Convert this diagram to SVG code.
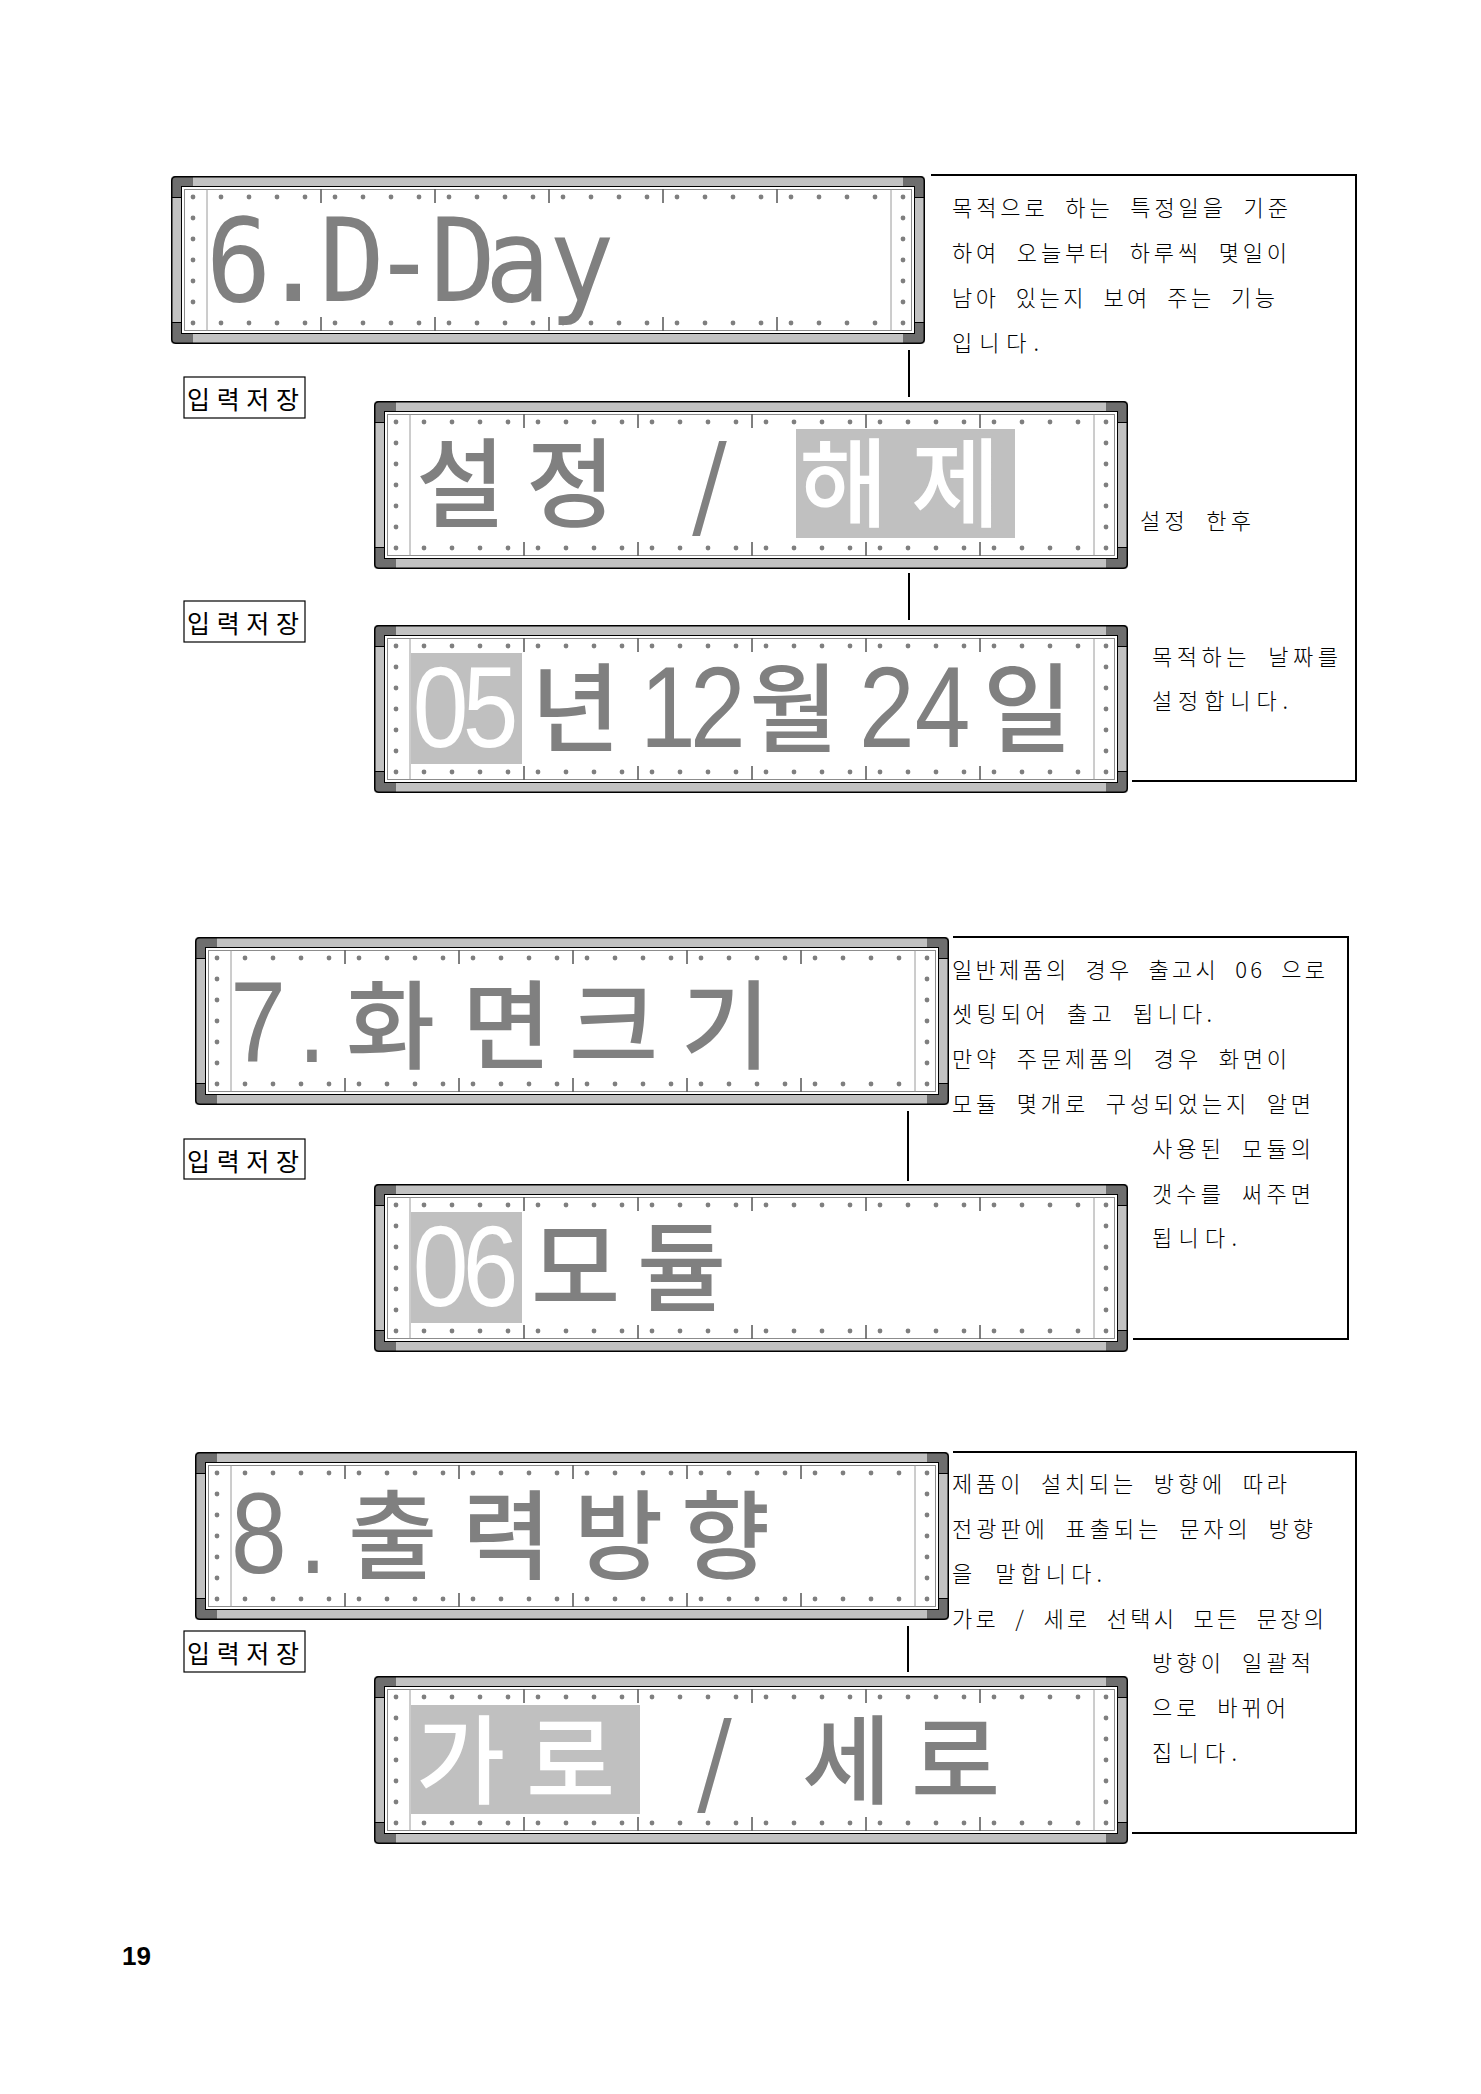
<svg xmlns="http://www.w3.org/2000/svg" width="1481" height="2094" viewBox="0 0 1481 2094">
<style>
.big{font-family:"Noto Sans CJK KR","Noto Sans",sans-serif;font-size:97px;font-weight:500;fill:#808080}
.lat{font-family:"Liberation Sans",Arial,sans-serif;font-size:115px;fill:#808080}
.mono{font-family:"DejaVu Sans Mono","Liberation Mono",monospace;font-size:115px;fill:#808080}
.w{fill:#ffffff}
.hl{fill:#c0c0c0}
.note{font-family:"Noto Sans CJK KR",sans-serif;font-size:22px;font-weight:300;word-spacing:8px;fill:#000}
.lbl{font-family:"Noto Sans CJK KR",sans-serif;font-size:25px;fill:#000}
.lblbox{fill:#fff;stroke:#000;stroke-width:1.2}
.conn{stroke:#000;stroke-width:2;fill:none}
.dot{fill:#7f7f7f}
</style>
<defs>
<clipPath id="fclip"><rect x="0" y="0" width="754" height="168" rx="4"/></clipPath>
<g id="frame">
 <rect x="0" y="0" width="754" height="168" rx="4" fill="#c2c2c2"/>
 <g clip-path="url(#fclip)" fill="#6e6e6e">
  <rect x="0" y="0" width="22" height="21"/>
  <rect x="732" y="0" width="22" height="21"/>
  <rect x="0" y="147" width="22" height="21"/>
  <rect x="732" y="147" width="22" height="21"/>
 </g>
 <rect x="10.5" y="10.5" width="733" height="147" fill="#fff" stroke="#000" stroke-width="1"/>
 <rect x="13.5" y="13.5" width="727" height="141" fill="none" stroke="#8c8c8c" stroke-width="1"/>
 <path d="M36 13.5V154.5M720 13.5V154.5" stroke="#9a9a9a" stroke-width="1"/>
 <path d="M150 13.5V27M264 13.5V27M378 13.5V27M492 13.5V27M606 13.5V27M150 141V154.5M264 141V154.5M378 141V154.5M492 141V154.5M606 141V154.5" stroke="#000" stroke-width="1"/>
 <path d="M0 21.5H10.5M0 146.5H10.5M743.5 21.5H754M743.5 146.5H754" stroke="#000" stroke-width="1"/>
 <g class="dot">
  <circle cx="22" cy="21" r="2.4"/><circle cx="732" cy="21" r="2.4"/>
  <circle cx="22" cy="42" r="2.4"/><circle cx="732" cy="42" r="2.4"/>
  <circle cx="22" cy="63" r="2.4"/><circle cx="732" cy="63" r="2.4"/>
  <circle cx="22" cy="84" r="2.4"/><circle cx="732" cy="84" r="2.4"/>
  <circle cx="22" cy="105" r="2.4"/><circle cx="732" cy="105" r="2.4"/>
  <circle cx="22" cy="126" r="2.4"/><circle cx="732" cy="126" r="2.4"/>
  <circle cx="22" cy="147" r="2.4"/><circle cx="732" cy="147" r="2.4"/>
  <circle cx="50" cy="21" r="2.4"/><circle cx="78" cy="21" r="2.4"/><circle cx="106" cy="21" r="2.4"/><circle cx="134" cy="21" r="2.4"/>
  <circle cx="164" cy="21" r="2.4"/><circle cx="192" cy="21" r="2.4"/><circle cx="220" cy="21" r="2.4"/><circle cx="248" cy="21" r="2.4"/>
  <circle cx="278" cy="21" r="2.4"/><circle cx="306" cy="21" r="2.4"/><circle cx="334" cy="21" r="2.4"/><circle cx="362" cy="21" r="2.4"/>
  <circle cx="392" cy="21" r="2.4"/><circle cx="420" cy="21" r="2.4"/><circle cx="448" cy="21" r="2.4"/><circle cx="476" cy="21" r="2.4"/>
  <circle cx="506" cy="21" r="2.4"/><circle cx="534" cy="21" r="2.4"/><circle cx="562" cy="21" r="2.4"/><circle cx="590" cy="21" r="2.4"/>
  <circle cx="620" cy="21" r="2.4"/><circle cx="648" cy="21" r="2.4"/><circle cx="676" cy="21" r="2.4"/><circle cx="704" cy="21" r="2.4"/>
  <circle cx="50" cy="147" r="2.4"/><circle cx="78" cy="147" r="2.4"/><circle cx="106" cy="147" r="2.4"/><circle cx="134" cy="147" r="2.4"/>
  <circle cx="164" cy="147" r="2.4"/><circle cx="192" cy="147" r="2.4"/><circle cx="220" cy="147" r="2.4"/><circle cx="248" cy="147" r="2.4"/>
  <circle cx="278" cy="147" r="2.4"/><circle cx="306" cy="147" r="2.4"/><circle cx="334" cy="147" r="2.4"/><circle cx="362" cy="147" r="2.4"/>
  <circle cx="392" cy="147" r="2.4"/><circle cx="420" cy="147" r="2.4"/><circle cx="448" cy="147" r="2.4"/><circle cx="476" cy="147" r="2.4"/>
  <circle cx="506" cy="147" r="2.4"/><circle cx="534" cy="147" r="2.4"/><circle cx="562" cy="147" r="2.4"/><circle cx="590" cy="147" r="2.4"/>
  <circle cx="620" cy="147" r="2.4"/><circle cx="648" cy="147" r="2.4"/><circle cx="676" cy="147" r="2.4"/><circle cx="704" cy="147" r="2.4"/>
 </g>
 <rect x="0.75" y="0.75" width="752.5" height="166.5" rx="4" fill="none" stroke="#000" stroke-width="1.5"/>
</g>
</defs>
<rect width="1481" height="2094" fill="#fff"/>

<g id="connectors">
 <path class="conn" d="M909 350V397M909 573V620M908 1111V1181M908 1626V1672"/>
</g>

<g id="note-box-1">
 <path class="conn" d="M931 175H1356V781H1132"/>
 <text class="note" x="952" y="216" textLength="336" lengthAdjust="spacing">목적으로 하는 특정일을 기준</text>
 <text class="note" x="952" y="261" textLength="335" lengthAdjust="spacing">하여 오늘부터 하루씩 몇일이</text>
 <text class="note" x="952" y="306" textLength="323" lengthAdjust="spacing">남아 있는지 보여 주는 기능</text>
 <text class="note" x="952" y="351" textLength="87" lengthAdjust="spacing">입니다.</text>
 <text class="note" x="1140" y="529" textLength="111" lengthAdjust="spacing">설정 한후</text>
 <text class="note" x="1152" y="665" textLength="186" lengthAdjust="spacing">목적하는 날짜를</text>
 <text class="note" x="1152" y="709" textLength="136" lengthAdjust="spacing">설정합니다.</text>
</g>
<g id="note-box-2">
 <path class="conn" d="M953 937H1348V1339H1133"/>
 <text class="note" x="952" y="978" textLength="373" lengthAdjust="spacing">일반제품의 경우 출고시 06 으로</text>
 <text class="note" x="952" y="1022" textLength="260" lengthAdjust="spacing">셋팅되어 출고 됩니다.</text>
 <text class="note" x="952" y="1067" textLength="335" lengthAdjust="spacing">만약 주문제품의 경우 화면이</text>
 <text class="note" x="952" y="1112" textLength="359" lengthAdjust="spacing">모듈 몇개로 구성되었는지 알면</text>
 <text class="note" x="1152" y="1157" textLength="159" lengthAdjust="spacing">사용된 모듈의</text>
 <text class="note" x="1152" y="1202" textLength="159" lengthAdjust="spacing">갯수를 써주면</text>
 <text class="note" x="1152" y="1246" textLength="85" lengthAdjust="spacing">됩니다.</text>
</g>
<g id="note-box-3">
 <path class="conn" d="M953 1452H1356V1833H1132"/>
 <text class="note" x="952" y="1492" textLength="335" lengthAdjust="spacing">제품이 설치되는 방향에 따라</text>
 <text class="note" x="952" y="1537" textLength="361" lengthAdjust="spacing">전광판에 표출되는 문자의 방향</text>
 <text class="note" x="952" y="1582" textLength="150" lengthAdjust="spacing">을 말합니다.</text>
 <text class="note" x="952" y="1627" textLength="372" lengthAdjust="spacing">가로 / 세로 선택시 모든 문장의</text>
 <text class="note" x="1152" y="1671" textLength="159" lengthAdjust="spacing">방향이 일괄적</text>
 <text class="note" x="1152" y="1716" textLength="134" lengthAdjust="spacing">으로 바뀌어</text>
 <text class="note" x="1152" y="1761" textLength="85" lengthAdjust="spacing">집니다.</text>
</g>

<g id="label-1"><rect class="lblbox" x="184" y="377" width="121" height="41"/><text class="lbl" x="187" y="409" textLength="112" lengthAdjust="spacing">입력저장</text></g>
<g id="label-2"><rect class="lblbox" x="184" y="601" width="121" height="41"/><text class="lbl" x="187" y="633" textLength="112" lengthAdjust="spacing">입력저장</text></g>
<g id="label-3"><rect class="lblbox" x="184" y="1139" width="121" height="40"/><text class="lbl" x="187" y="1171" textLength="112" lengthAdjust="spacing">입력저장</text></g>
<g id="label-4"><rect class="lblbox" x="184" y="1631" width="121" height="41"/><text class="lbl" x="187" y="1663" textLength="112" lengthAdjust="spacing">입력저장</text></g>

<g id="panel-6-dday">
 <use href="#frame" x="171" y="176"/>
 <text class="mono" transform="scale(0.95,1)" y="301" x="216.6 274.1 336.1 390.9 453 510.4 577.6">6.D-Day</text>
</g>
<g id="panel-set-clear">
 <use href="#frame" x="374" y="401"/>
 <rect class="hl" x="796" y="429" width="219" height="109"/>
 <text class="big" y="519"><tspan x="416 526 600 691 760">설정 / </tspan><tspan class="w" x="799 911">해제</tspan></text>
</g>
<g id="panel-date">
 <use href="#frame" x="374" y="625"/>
 <rect class="hl" x="411" y="653" width="111" height="111"/>
 <text class="lat w" transform="scale(0.87,1)" y="747" x="474.5 532">05</text>
 <text class="big" y="744" x="531">년</text>
 <text class="lat" transform="scale(0.87,1)" y="747" x="735.7 793.2">12</text>
 <text class="big" y="744" x="749">월</text>
 <text class="lat" transform="scale(0.87,1)" y="747" x="987.5 1051.4">24</text>
 <text class="big" y="744" x="983">일</text>
</g>
<g id="panel-7-size">
 <use href="#frame" x="195" y="937"/>
 <text class="lat" transform="scale(0.87,1)" y="1062" x="264.8 342.4">7.</text>
 <text class="big" y="1061" x="346 462 569 681">화면크기</text>
</g>
<g id="panel-module">
 <use href="#frame" x="374" y="1184"/>
 <rect class="hl" x="411" y="1212" width="111" height="111"/>
 <text class="lat w" transform="scale(0.87,1)" y="1306" x="474.5 532">06</text>
 <text class="big" y="1303" x="531 637">모듈</text>
</g>
<g id="panel-8-direction">
 <use href="#frame" x="195" y="1452"/>
 <text class="lat" transform="scale(0.87,1)" y="1573" x="265.5 343.6">8.</text>
 <text class="big" y="1571" x="348 462 574 681">출력방향</text>
</g>
<g id="panel-orientation">
 <use href="#frame" x="374" y="1676"/>
 <rect class="hl" x="411" y="1705" width="229" height="109"/>
 <text class="big" y="1796"><tspan class="w" x="416 526">가로</tspan><tspan x="600 696 770 802 911"> / 세로</tspan></text>
</g>

<text x="122" y="1965" font-family="Liberation Sans,Arial,sans-serif" font-size="26" font-weight="bold" fill="#000">19</text>
</svg>
